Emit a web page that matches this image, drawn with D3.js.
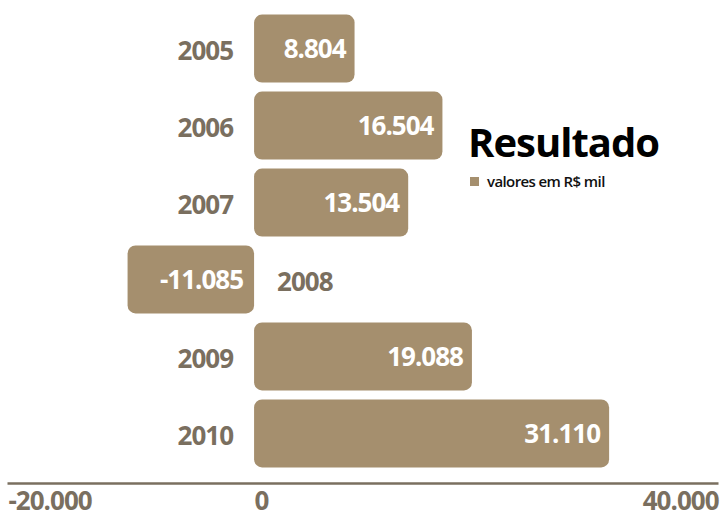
<!DOCTYPE html>
<html>
<head>
<meta charset="utf-8">
<script src="https://cdn.jsdelivr.net/npm/d3@7"></script>
<style>
  body { margin: 0; background: #fff; }
  text { font-family: "Open Sans", sans-serif; }
</style>
</head>
<body>
<div class="chart"></div>
<script>
var years = ['2005', '2006', '2007', '2008', '2009', '2010'];
var values = [8804, 16504, 13504, -11085, 19088, 31110];
var tickValues = [-20000, 0, 40000];

var barColor = '#a58f6e';
var labelColor = '#7a6f5f';

var width = 724, height = 518;
var fmt = d3.formatLocale({ decimal: ',', thousands: '.', grouping: [3], currency: ['R$', ''], minus: '-' }).format(',d');

var svg = d3.select('.chart')
  .append('svg')
    .attr('width', width)
    .attr('height', height);

var xScale = d3.scaleLinear()
  .domain([-21650, 40650])
  .range([7, 718]);

var yScale = d3.scaleBand()
  .domain(years)
  .range([10, 472])
  .paddingInner(0.117)
  .paddingOuter(0.06);

var data = years.map((y, i) => ({ year: y, value: values[i] }));

// bars
svg.selectAll('rect.bar')
  .data(data)
  .enter()
  .append('rect')
    .attr('class', 'bar')
    .attr('x', d => xScale(Math.min(0, d.value)))
    .attr('y', d => yScale(d.year))
    .attr('width', d => Math.abs(xScale(d.value) - xScale(0)))
    .attr('height', yScale.bandwidth())
    .attr('rx', 8)
    .attr('fill', barColor);

// value labels inside bars
svg.selectAll('text.value')
  .data(data)
  .enter()
  .append('text')
    .attr('class', 'value')
    .attr('x', d => d.value >= 0 ? xScale(d.value) - 9 : xScale(0) - 11)
    .attr('y', d => yScale(d.year) + yScale.bandwidth() / 2)
    .attr('dy', '0.35em')
    .attr('text-anchor', 'end')
    .attr('fill', '#fff')
    .style('font-size', '26px')
    .style('font-weight', 700)
    .style('letter-spacing', '-1px')
    .text(d => fmt(d.value));

// year labels
svg.selectAll('text.year')
  .data(data)
  .enter()
  .append('text')
    .attr('class', 'year')
    .attr('x', d => d.value >= 0 ? xScale(0) - 21 : xScale(0) + 23)
    .attr('y', d => yScale(d.year) + yScale.bandwidth() / 2 + 2)
    .attr('dy', '0.35em')
    .attr('text-anchor', d => d.value >= 0 ? 'end' : 'start')
    .attr('fill', labelColor)
    .style('font-size', '26px')
    .style('font-weight', 700)
    .style('letter-spacing', '-1px')
    .text(d => d.year);

// x axis
var axis = svg.append('g')
  .attr('transform', 'translate(0, 483)')
  .call(d3.axisBottom(xScale).tickValues(tickValues).tickSize(0).tickPadding(9).tickFormat(fmt));

axis.select('.domain')
  .attr('stroke', labelColor)
  .attr('stroke-width', 2.5);

axis.selectAll('.tick text')
  .attr('fill', labelColor)
  .style('font-size', '26px')
  .style('font-weight', 700)
  .style('letter-spacing', '-1px')
  .attr('text-anchor', d => d === 40000 ? 'end' : 'start')
  .attr('x', d => d < 0 ? xScale.range()[0] - xScale(d) + 1 : (d > 0 ? xScale.range()[1] - xScale(d) : 0));

// title + legend
svg.append('text')
  .attr('x', 468)
  .attr('y', 157)
  .attr('fill', '#000')
  .style('font-size', '40px')
  .style('font-weight', 700)
  .style('letter-spacing', '-1px')
  .text('Resultado');

svg.append('rect')
  .attr('x', 470)
  .attr('y', 177)
  .attr('width', 9)
  .attr('height', 9)
  .attr('fill', barColor);

svg.append('text')
  .attr('x', 487)
  .attr('y', 187)
  .attr('fill', '#111')
  .style('font-size', '15px')
  .style('font-weight', 600)
  .style('letter-spacing', '-0.6px')
  .text('valores em R$ mil');
</script>
</body>
</html>
